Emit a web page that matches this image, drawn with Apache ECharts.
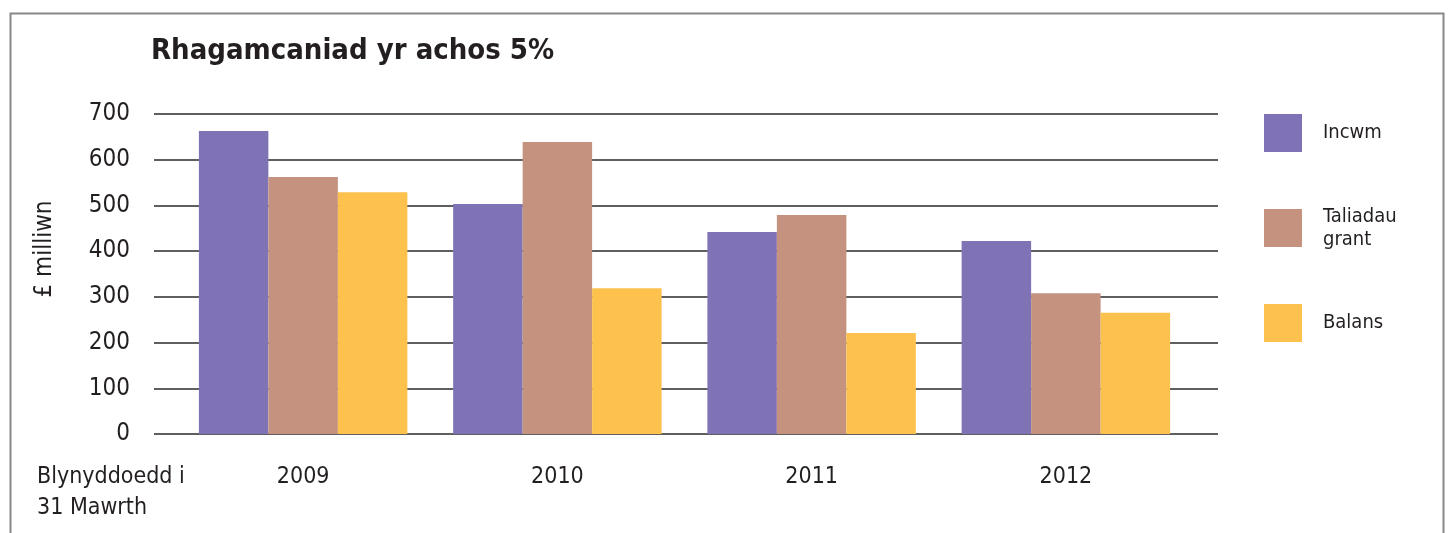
<!DOCTYPE html>
<html>
<head>
<meta charset="utf-8">
<script src="https://cdn.jsdelivr.net/npm/echarts@6/dist/echarts.min.js"></script>
<style>
html,body{margin:0;padding:0;background:#fff;}
#main{width:1450px;height:533px;}
</style>
</head>
<body>
<div id="main"></div>
<script>
const categories = ['2009', '2010', '2011', '2012'];
const seriesNames = ['Incwm', 'Taliadau grant', 'Balans'];
const incwm = [663, 503, 442, 422];
const taliadau = [562, 639, 479, 308];
const balans = [529, 319, 221, 265];
const yTicks = [0, 100, 200, 300, 400, 500, 600, 700];

const FONT = "'DejaVu Sans Condensed', 'Liberation Sans', sans-serif";
const TXT = '#231f20';
const colors = ['#8073B5', '#C4927F', '#FDC24E'];

const chart = echarts.init(document.getElementById('main'), null, {renderer: 'canvas'});
chart.setOption({
  animation: false,
  backgroundColor: '#fff',
  color: colors,
  textStyle: {fontFamily: FONT, color: TXT},
  title: {
    text: 'Rhagamcaniad yr achos 5%',
    left: 151, top: 37, padding: 0,
    textStyle: {fontFamily: FONT, fontWeight: 'bold', fontSize: 29, color: TXT}
  },
  legend: {
    orient: 'vertical',
    left: 1264, top: 114, padding: 0,
    itemWidth: 38, itemHeight: 38, itemGap: 53,
    icon: 'rect',
    data: seriesNames,
    formatter: function (n) { return n === 'Taliadau grant' ? 'Taliadau\ngrant' : n; },
    textStyle: {fontFamily: FONT, fontSize: 20, color: TXT, lineHeight: 23, padding: [0, 0, 0, 16]}
  },
  graphic: [
    {type: 'rect', left: 8, top: 11, shape: {width: 1433, height: 540}, style: {fill: 'none', stroke: '#888', lineWidth: 2}, silent: true},
    {type: 'text', left: 37, top: 462, style: {text: 'Blynyddoedd i\n31 Mawrth', font: '23px ' + FONT, fill: TXT, lineHeight: 31}},
    {type: 'text', x: 45, y: 249, rotation: Math.PI / 2, style: {text: '£ milliwn', font: '24px ' + FONT, fill: TXT, align: 'center', verticalAlign: 'middle'}}
  ],
  grid: [
    {left: 154, right: 232, top: 114, bottom: 99},
    {left: 176, right: 257, top: 114, bottom: 99}
  ],
  xAxis: [
    {gridIndex: 0, type: 'value', min: 0, max: 1, show: false},
    {gridIndex: 1, type: 'category', data: categories,
     axisLine: {show: false}, axisTick: {show: false},
     axisLabel: {fontFamily: FONT, fontSize: 23, color: TXT, margin: 32}}
  ],
  yAxis: [
    {gridIndex: 0, type: 'value', min: 0, max: 700, interval: 100,
     axisLine: {show: false}, axisTick: {show: false},
     axisLabel: {fontFamily: FONT, fontSize: 24, color: TXT, margin: 24, padding: [6, 0, 0, 0],
       formatter: function (v) { return yTicks.indexOf(v) >= 0 ? String(v) : ''; }},
     splitLine: {show: true, lineStyle: {color: '#2a2a2a', width: 1.5}}},
    {gridIndex: 1, type: 'value', min: 0, max: 700, interval: 100, show: false, splitLine: {show: false}}
  ],
  series: [
    {name: seriesNames[0], type: 'bar', xAxisIndex: 1, yAxisIndex: 1, data: incwm, barGap: '0%', barCategoryGap: '18%'},
    {name: seriesNames[1], type: 'bar', xAxisIndex: 1, yAxisIndex: 1, data: taliadau, barGap: '0%', barCategoryGap: '18%'},
    {name: seriesNames[2], type: 'bar', xAxisIndex: 1, yAxisIndex: 1, data: balans, barGap: '0%', barCategoryGap: '18%'}
  ]
});
</script>
</body>
</html>
